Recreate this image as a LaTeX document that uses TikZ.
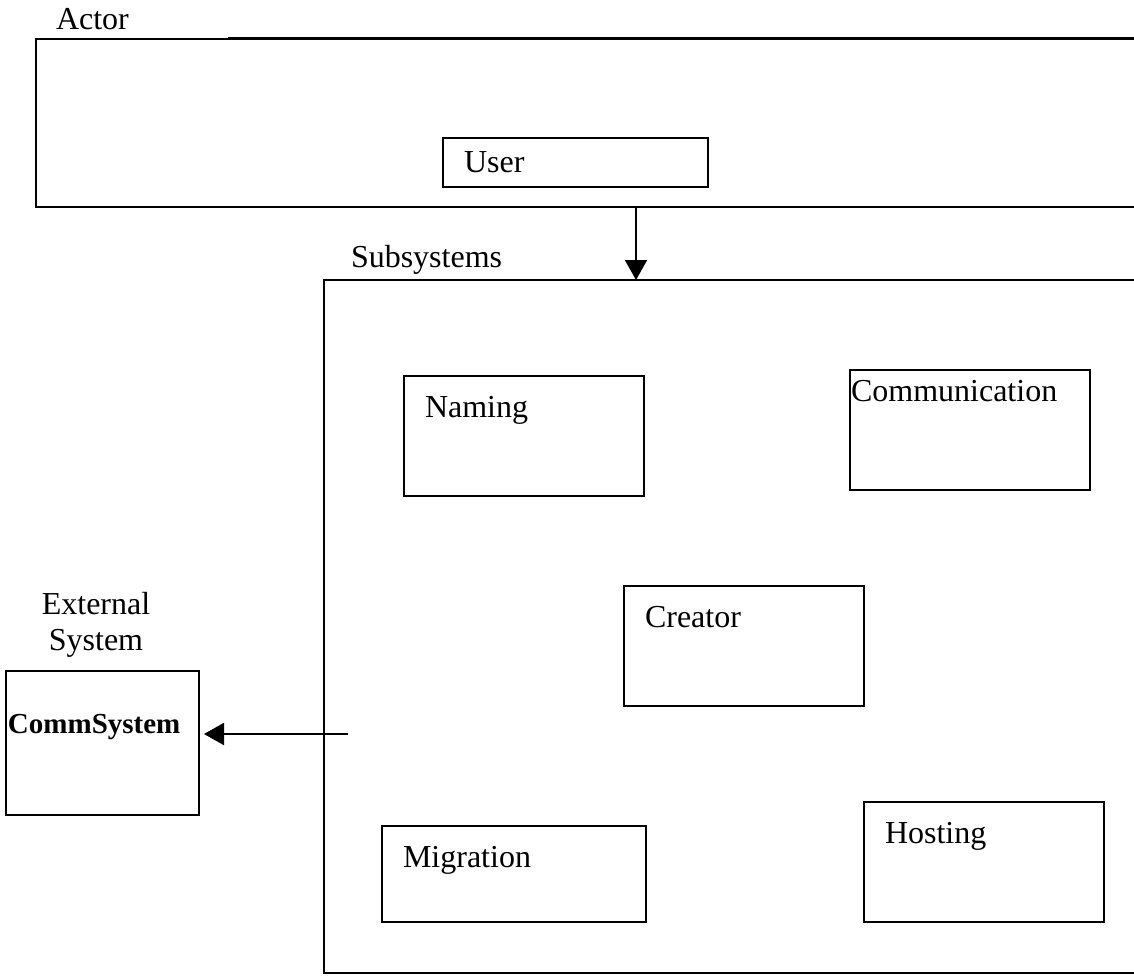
\documentclass[tikz,border=0pt]{standalone}
\usepackage{fontspec}
\setmainfont{Liberation Serif}
\usetikzlibrary{arrows.meta}
\begin{document}
\begin{tikzpicture}[x=0.5pt,y=-0.5pt,
  line width=1pt,
  box/.style={draw=black, line width=1pt, inner sep=0pt, rectangle},
  label/.style={inner sep=0pt, anchor=base west, font=\fontsize{16}{19}\selectfont},
  clabel/.style={inner sep=0pt, anchor=base, font=\fontsize{16}{19}\selectfont},
  flow/.style={-{Triangle[width=11pt,length=10pt]}, line width=1pt}]
\useasboundingbox[fill=white] (0,0) rectangle (1134,975);

% Actor frame (open on the right)
\draw[line width=1pt] (228,39) -- (36,39) -- (36,207) -- (1134,207);
\draw[line width=1.5pt] (228,38.5) -- (1134,38.5);
\node[label] (actorlbl) at (55,29) {Actor};
\node[box, minimum width=132.5pt, minimum height=24.5pt] (user) at (575.5,162.5) {};
\node[label] (usertxt) at (463,172) {User};

% Subsystems frame (open on the right)
\draw (1134,280) -- (324,280) -- (324,973) -- (1134,973);
\node[label] (sublbl) at (350,267) {Subsystems};

\node[box, minimum width=120pt, minimum height=60pt] (naming) at (524,436) {};
\node[label] (namingtxt) at (424,417) {Naming};

\node[box, minimum width=120pt, minimum height=60pt] (comm) at (970,430) {};
\node[label] (commtxt) at (850,401) {Communication};

\node[box, minimum width=120pt, minimum height=60pt] (creator) at (744,646) {};
\node[label] (creatortxt) at (644,627) {Creator};

\node[box, minimum width=132pt, minimum height=48pt] (migration) at (514,874) {};
\node[label] (migrationtxt) at (402,867) {Migration};

\node[box, minimum width=120pt, minimum height=60pt] (hosting) at (984,862) {};
\node[label] (hostingtxt) at (884,843) {Hosting};

% External system
\node[clabel] (exttxt) at (96,614) {External};
\node[clabel] (systxt) at (96,650) {System};
\node[box, minimum width=96.5pt, minimum height=72pt] (commsys) at (102.5,743) {};
\node[inner sep=0pt, anchor=base west, font=\fontsize{14.5}{17}\selectfont\bfseries] (commsystxt) at (7,733) {CommSystem};

% Connectors
\coordinate (actorfoot) at (636,207);
\coordinate (subtop) at (636,280);
\draw[flow] (actorfoot) -- (subtop);

\coordinate (subsrc) at (348,734);
\coordinate (commtip) at (204,734);
\draw[flow] (subsrc) -- (commtip);
\end{tikzpicture}
\end{document}
